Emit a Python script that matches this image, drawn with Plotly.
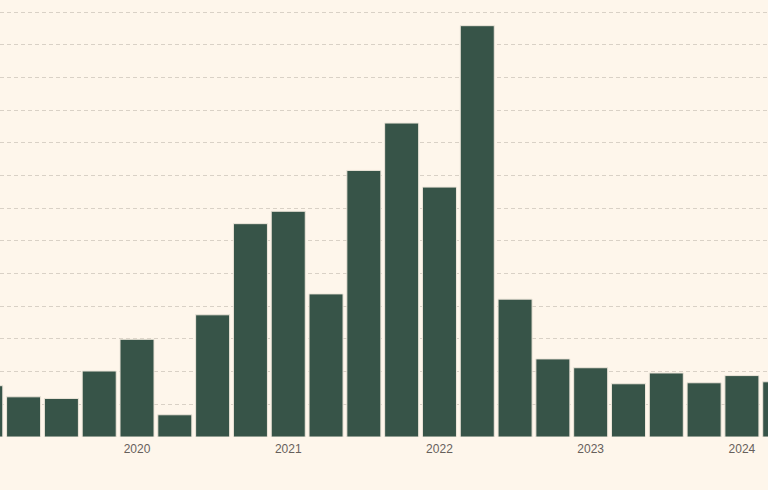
import plotly.graph_objects as go

# Quarterly series, 2019 Q1 .. 2024 Q2 (values in gridline units)
quarters = ["2019Q1", "2019Q2", "2019Q3", "2019Q4",
            "2020Q1", "2020Q2", "2020Q3", "2020Q4",
            "2021Q1", "2021Q2", "2021Q3", "2021Q4",
            "2022Q1", "2022Q2", "2022Q3", "2022Q4",
            "2023Q1", "2023Q2", "2023Q3", "2023Q4",
            "2024Q1", "2024Q2"]
values = [1.57, 1.23, 1.18, 2.02,
          2.99, 0.68, 3.74, 6.53,
          6.91, 4.38, 8.16, 9.61,
          7.65, 12.59, 4.22, 2.39,
          2.12, 1.63, 1.96, 1.66,
          1.88, 1.69]
tick_labels = ["2020", "2021", "2022", "2023", "2024"]
tick_quarters = ["2020Q1", "2021Q1", "2022Q1", "2023Q1", "2024Q1"]

x_pos = list(range(len(quarters)))
tick_pos = [quarters.index(q) for q in tick_quarters]

BG = "#FEF6EB"
BAR = "#375448"

fig = go.Figure(go.Bar(
    x=x_pos, y=values, width=0.9,
    marker=dict(color=BAR, line=dict(color="#EDE6DA", width=1)),
    hoverinfo="skip",
))

fig.update_layout(
    width=768, height=490,
    margin=dict(l=0, r=0, t=0, b=53),
    paper_bgcolor=BG, plot_bgcolor=BG,
    showlegend=False,
    font=dict(family="Liberation Sans, Arial, sans-serif", size=12, color="#66605B"),
)
fig.update_xaxes(
    range=[0.376, 20.69],
    tickmode="array", tickvals=tick_pos, ticktext=tick_labels,
    showgrid=False, zeroline=False, showline=False, ticks="",
    ticklabelstandoff=3,
    tickfont=dict(size=12, color="#66605B"),
)
fig.update_yaxes(
    range=[0, 13.376], dtick=1, tick0=0,
    showticklabels=False, ticks="",
    showgrid=True, gridcolor="#D9D1C6", gridwidth=1, griddash="4px,3px",
    zeroline=False, showline=False,
)

fig.write_html("out.html")
